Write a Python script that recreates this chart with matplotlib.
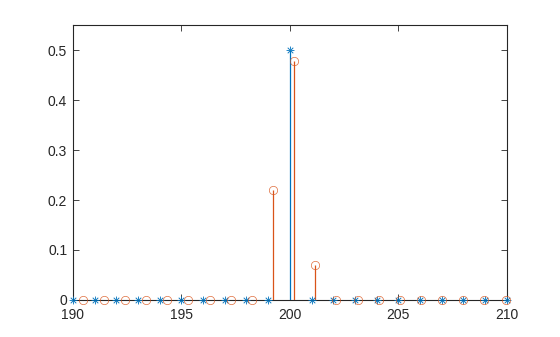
import matplotlib
matplotlib.use("Agg")
import matplotlib.pyplot as plt

blue_x = [190, 191, 192, 193, 194, 195, 196, 197, 198, 199, 200,
          201, 202, 203, 204, 205, 206, 207, 208, 209, 210]
blue_y = [0, 0, 0, 0, 0, 0, 0, 0, 0, 0, 0.5,
          0, 0, 0, 0, 0, 0, 0, 0, 0, 0]
orange_x = [190.45, 191.42, 192.40, 193.37, 194.35, 195.32, 196.30, 197.27, 198.25, 199.22, 200.20,
            201.17, 202.15, 203.12, 204.10, 205.07, 206.05, 207.02, 208.00, 208.97, 209.95]
orange_y = [0, 0, 0, 0, 0, 0, 0, 0, 0, 0.221, 0.478,
            0.070, 0, 0, 0, 0, 0, 0, 0, 0, 0]
xticks = [190, 195, 200, 205, 210]
yticks = [0, 0.1, 0.2, 0.3, 0.4, 0.5]

plt.rcParams['font.family'] = ['Liberation Sans', 'DejaVu Sans']
BLUE = '#0072BD'
ORANGE = '#D95319'
AX = '#262626'

fig = plt.figure(figsize=(5.6, 3.37), dpi=100)
ax = fig.add_axes([0.13, 0.11, 0.775, 0.815])

for xs, ys, c, m, ms in [(blue_x, blue_y, BLUE, (8, 2, 0), 5.5),
                         (orange_x, orange_y, ORANGE, 'o', 6)]:
    ax.vlines(xs, 0, ys, colors=c, linewidth=0.9, zorder=2)
    ax.plot(xs, ys, linestyle='none', marker=m, markersize=ms,
            markerfacecolor='none', markeredgecolor=c, markeredgewidth=0.5,
            alpha=0.85, clip_on=False, zorder=3)

ax.set_xlim(190, 210)
ax.set_ylim(0, 0.55)
ax.set_xticks(xticks)
ax.set_xticklabels([str(t) for t in xticks])
ax.set_yticks(yticks)
ax.set_yticklabels(['0'] + [f'{t:.1f}' for t in yticks[1:]])
ax.tick_params(direction='in', length=4, width=0.6, colors=AX, labelsize=10,
               top=True, right=True, labeltop=False, labelright=False)
ax.tick_params(axis='x', pad=6)
ax.tick_params(axis='y', pad=4)
for s in ax.spines.values():
    s.set_linewidth(0.8)
    s.set_color(AX)
    s.set_zorder(1)

fig.savefig('out.png', dpi=100, facecolor='white')
